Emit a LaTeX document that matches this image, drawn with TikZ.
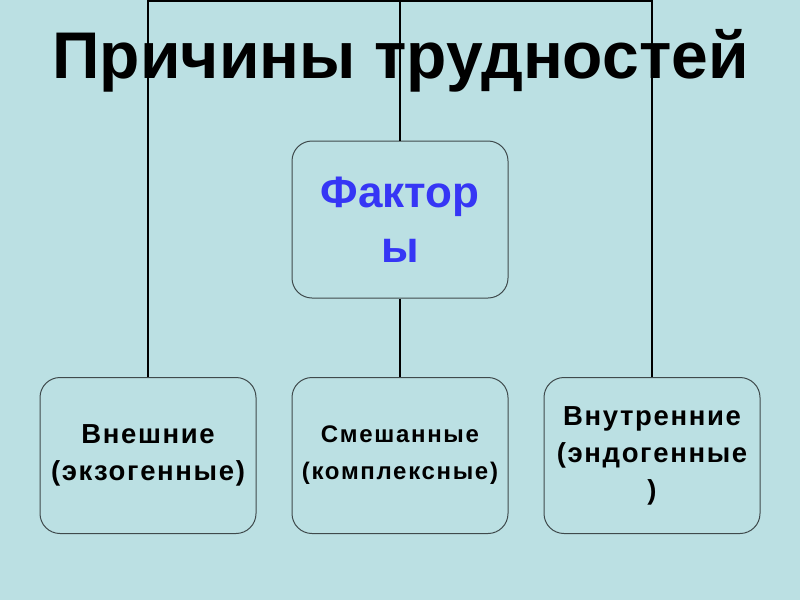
\documentclass[tikz,border=0pt]{standalone}
\usepackage{fontspec}
\usepackage{tikz}
\usetikzlibrary{positioning}
\setmainfont{Liberation Sans}
\definecolor{SlideTeal}{HTML}{BBE0E3}
\definecolor{FrameGray}{HTML}{3F4A4C}
\definecolor{FactorBlue}{HTML}{3636F5}
\tikzset{
  causebox/.style={draw=FrameGray,line width=1pt,rounded corners=20pt,fill=SlideTeal,align=center,minimum width=216pt,minimum height=156pt,text=black,inner sep=0pt},
  factorbox/.style={causebox,minimum height=157pt,text=FactorBlue,font=\fontsize{44}{55}\selectfont\bfseries},
  link/.style={line width=1.5pt,draw=black}
}

\begin{document}
\begin{tikzpicture}[x=1pt,y=-1pt]
  \fill[SlideTeal] (0,0) rectangle (800,600);
  \useasboundingbox (0,0) rectangle (800,600);
  \node[anchor=base,inner sep=0pt,font=\fontsize{66}{66}\selectfont\bfseries] (title) at (400.5,78.3) {Причины трудностей};
  \node[factorbox] (factors) at (400,219.5) {Фактор\\ы};
  \node[causebox,font=\fontsize{27.5}{37}\selectfont\bfseries\addfontfeature{LetterSpace=6}] (outer) at (148,455.5) {Внешние\\(экзогенные)};
  \node[causebox,font=\fontsize{24}{37}\selectfont\bfseries\addfontfeature{LetterSpace=7}] (mixed) at (400,455.5) {Смешанные\\(комплексные)};
  \node[causebox,font=\fontsize{27.5}{37}\selectfont\bfseries\addfontfeature{LetterSpace=6}] (inner) at (652,455.5) {Внутренние\\(эндогенные\\)};
  % the tree bar sits on the top edge
  \coordinate (hub) at (400,1);
  \draw[link] (outer.north) |- (hub) -| (inner.north);
  \draw[link] (hub) -- (factors.north);
  \draw[link] (factors.south) -- (mixed.north);
\end{tikzpicture}
\end{document}
